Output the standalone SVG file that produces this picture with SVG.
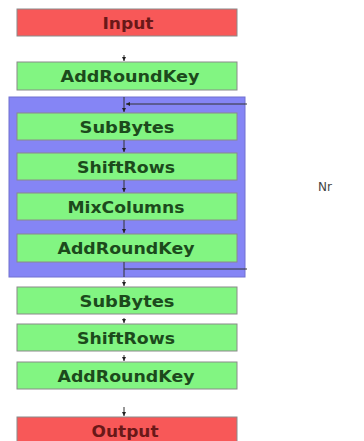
<svg xmlns="http://www.w3.org/2000/svg" width="364" height="441" viewBox="0 0 364 441">
<defs>
<style>
.g rect{fill:#82f582;stroke:#8a8a8a;stroke-width:1}
.r rect{fill:#f85858;stroke:#8a8a8a;stroke-width:1}
.g text{fill:#1c4a1c}
.r text{fill:#6a1818}
text{font-family:"DejaVu Sans","Liberation Sans",sans-serif;font-weight:bold;font-size:15px;text-anchor:middle}
.c line,.c path{stroke:#333;stroke-width:1;fill:none}
</style>
<marker id="ah" viewBox="0 0 6 6" refX="6" refY="3" markerWidth="4" markerHeight="4" orient="auto">
<path d="M0,0 L6,3 L0,6 z" fill="#222"/>
</marker>
</defs>
<rect x="9" y="97" width="236" height="180" fill="#8585f5" stroke="#7070d0" stroke-width="1"/>
<g id="input" class="r"><rect x="17" y="9" width="220" height="27"/><text x="128" y="28.5" textLength="51" lengthAdjust="spacingAndGlyphs">Input</text></g>
<g id="ark0" class="g"><rect x="17" y="62" width="220" height="28"/><text x="130" y="81.5" textLength="139" lengthAdjust="spacingAndGlyphs">AddRoundKey</text></g>
<g id="sb1" class="g"><rect x="17" y="113" width="220" height="27"/><text x="127" y="132.5" textLength="95" lengthAdjust="spacingAndGlyphs">SubBytes</text></g>
<g id="sr1" class="g"><rect x="17" y="153" width="220" height="27"/><text x="126" y="172.5" textLength="98" lengthAdjust="spacingAndGlyphs">ShiftRows</text></g>
<g id="mc" class="g"><rect x="17" y="193" width="220" height="27"/><text x="126" y="212.5" textLength="117" lengthAdjust="spacingAndGlyphs">MixColumns</text></g>
<g id="ark1" class="g"><rect x="17" y="234" width="220" height="28"/><text x="126" y="253.5" textLength="137" lengthAdjust="spacingAndGlyphs">AddRoundKey</text></g>
<g id="sb2" class="g"><rect x="17" y="287" width="220" height="27"/><text x="127" y="306.5" textLength="95" lengthAdjust="spacingAndGlyphs">SubBytes</text></g>
<g id="sr2" class="g"><rect x="17" y="324" width="220" height="27"/><text x="126" y="343.5" textLength="98" lengthAdjust="spacingAndGlyphs">ShiftRows</text></g>
<g id="ark2" class="g"><rect x="17" y="362" width="220" height="27"/><text x="126" y="381.5" textLength="137" lengthAdjust="spacingAndGlyphs">AddRoundKey</text></g>
<g id="output" class="r"><rect x="17" y="417" width="220" height="26"/><text x="125" y="436.5" textLength="67" lengthAdjust="spacingAndGlyphs">Output</text></g>
<g id="connectors" class="c">
<line x1="124" y1="55" x2="124" y2="61" marker-end="url(#ah)"/>
<line x1="124" y1="97" x2="124" y2="112" marker-end="url(#ah)"/>
<line x1="124" y1="140" x2="124" y2="152" marker-end="url(#ah)"/>
<line x1="124" y1="180" x2="124" y2="192" marker-end="url(#ah)"/>
<line x1="124" y1="220" x2="124" y2="233" marker-end="url(#ah)"/>
<line x1="124" y1="262" x2="124" y2="277"/>
<line x1="247" y1="104" x2="126" y2="104" marker-end="url(#ah)"/>
<line x1="124" y1="269" x2="247" y2="269"/>
<line x1="124" y1="280" x2="124" y2="286" marker-end="url(#ah)"/>
<line x1="124" y1="318" x2="124" y2="323" marker-end="url(#ah)"/>
<line x1="124" y1="355" x2="124" y2="361" marker-end="url(#ah)"/>
<line x1="124" y1="407" x2="124" y2="416" marker-end="url(#ah)"/>
</g>
<text x="325" y="191" style="font-size:12px;font-weight:normal;fill:#444">Nr</text>
</svg>
